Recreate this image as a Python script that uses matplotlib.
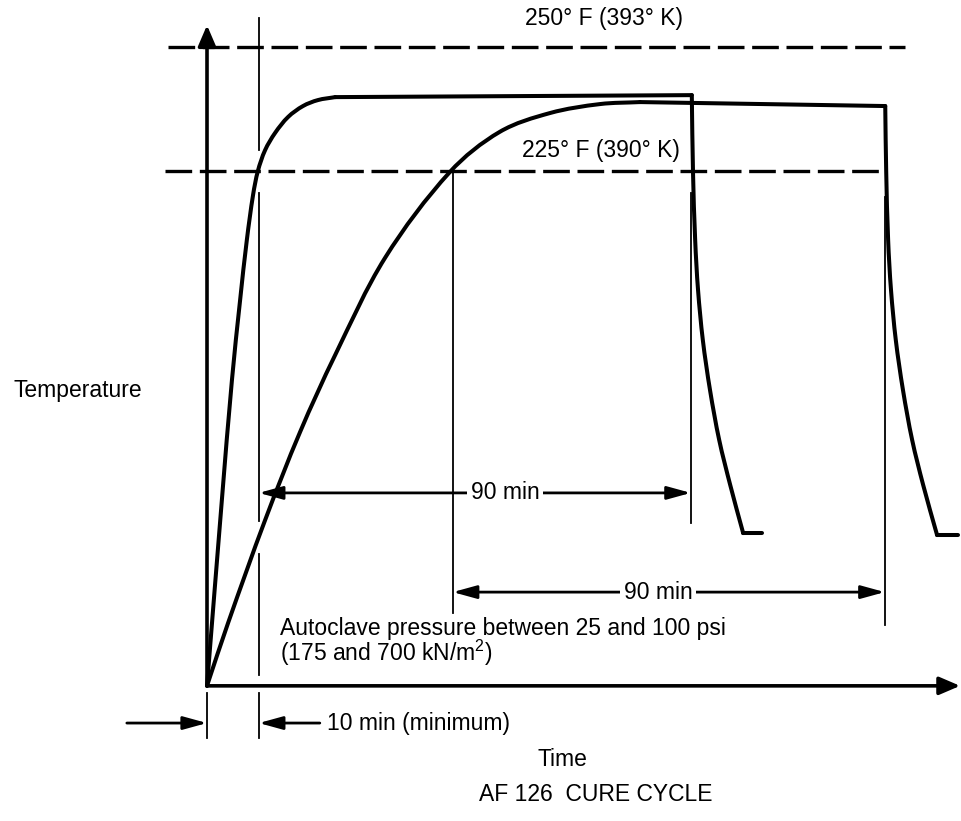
import math
import matplotlib
matplotlib.use("Agg")
import matplotlib.pyplot as plt
from matplotlib.path import Path
from matplotlib.patches import PathPatch

plt.rcParams['font.family'] = ['Liberation Sans', 'DejaVu Sans']
plt.rcParams['mathtext.fontset'] = 'custom'
plt.rcParams['mathtext.rm'] = 'Liberation Sans'

# Cure-cycle temperature profiles (time in minutes, temperature in deg F)
fast_time = [0, 3.1, 5.2, 6.9, 8.3, 9.6, 10.6, 12.1, 14.2, 16.9, 20.0, 23.1, 26.7,
             101.0,
             101.25, 101.7, 102.3, 103.3, 104.8, 106.7, 109.0, 111.7,
             115.6]
fast_temp = [121.2, 158.7, 182.9, 199.0, 211.1, 220.2, 225.0, 229.2, 232.7, 235.9, 238.1, 239.3, 239.9,
             240.3,
             224.8, 211.1, 201.0, 190.9, 180.8, 170.8, 161.7, 152.0,
             152.0]

slow_time = [0, 4.4, 12.1, 19.4, 26.7, 37.1, 50.6, 61.0, 71.5, 81.9, 90.2,
             141.3,
             141.5, 141.9, 142.5, 143.5, 145.0, 146.9, 149.2, 152.1,
             156.5]
slow_temp = [121.2, 133.9, 154.6, 172.4, 187.9, 207.5, 224.8, 232.9, 236.7, 238.5, 238.9,
             238.1,
             224.8, 211.1, 201.0, 190.9, 180.8, 170.8, 161.7, 151.6,
             151.6]

# Indices where the profiles change character (plateau start, cool-down start, cool-down end)
fast_corners = [12, 13, 21]
slow_corners = [10, 11, 19]

# Temperature limits
limit_temps = [250, 225]
limit_labels = ["250° F (393° K)", "225° F (390° K)"]
limit_spans = [(-8.1, 145.4), (-8.8, 140.6)]
limit_label_y = [255.8, 229.2]
limit_label_x = [99.2, 98.5]

# Timing marks (minutes)
heatup_min = 10
hold_min = 90
fast_start = 10.8                 # fast part reaches 225 F
slow_start = 51.2                 # slow part reaches 225 F
fast_end = fast_start + hold_min
slow_end = slow_start + hold_min

hold_arrow_temp = [160.1, 140.1]
hold_label_x = [62.1, 94.0]

# Extent of the thin vertical guide lines (temperature ranges)
guides = [
    (fast_start, [(255.8, 229.2), (220.6, 154.4), (147.8, 123.4), (119.8, 110.7)]),
    (0.0, [(119.8, 110.7)]),
    (slow_start, [(224.6, 135.9)]),
    (fast_end, [(220.6, 154.0)]),
    (slow_end, [(219.8, 133.5)]),
]

# Axis origin and ends
t0, T0 = 0.0, 121.2
t_max, T_max = 156.9, 254.4

fig = plt.figure(figsize=(9.62, 8.21), dpi=100)
ax = fig.add_axes([0, 0, 1, 1])
ax.set_xlim(-43.125, 157.29)
ax.set_ylim(93.95, 259.48)
ax.axis('off')

k = 'black'


def smooth_path(xs, ys):
    """Smooth cubic curve through the points (tangents taken in screen space)."""
    to_px = ax.transData.transform
    from_px = ax.transData.inverted().transform
    pts = [tuple(p) for p in to_px(list(zip(xs, ys)))]
    n = len(pts)
    if n == 2:
        return Path([tuple(v) for v in from_px(pts)], [Path.MOVETO, Path.LINETO])

    def unit(a, b):
        dx, dy = b[0] - a[0], b[1] - a[1]
        d = math.hypot(dx, dy) or 1.0
        return dx / d, dy / d

    tang = []
    for i in range(n):
        a = pts[i - 1] if i > 0 else pts[i]
        b = pts[i + 1] if i < n - 1 else pts[i]
        tang.append(unit(a, b))
    verts = [pts[0]]
    codes = [Path.MOVETO]
    for i in range(n - 1):
        p1, p2 = pts[i], pts[i + 1]
        L = math.hypot(p2[0] - p1[0], p2[1] - p1[1]) / 3.0
        c1 = (p1[0] + tang[i][0] * L, p1[1] + tang[i][1] * L)
        c2 = (p2[0] - tang[i + 1][0] * L, p2[1] - tang[i + 1][1] * L)
        verts += [c1, c2, p2]
        codes += [Path.CURVE4] * 3
    return Path([tuple(v) for v in from_px(verts)], codes)


def draw_profile(ts, Ts, corners):
    bounds = [0] + corners + [len(ts) - 1]
    for a, b in zip(bounds[:-1], bounds[1:]):
        path = smooth_path(ts[a:b + 1], Ts[a:b + 1])
        ax.add_patch(PathPatch(path, fill=False, edgecolor=k, lw=2.9,
                               capstyle='round', joinstyle='round', zorder=3))


# Axes drawn as arrows
axis_arrow = dict(arrowstyle='-|>,head_length=0.7,head_width=0.3', color=k, lw=2.6,
                  mutation_scale=18, shrinkA=0, shrinkB=0)
ax.annotate('', xy=(t0, T_max), xytext=(t0, T0), arrowprops=axis_arrow)
ax.annotate('', xy=(t_max, T0), xytext=(t0, T0), arrowprops=axis_arrow)

# Limit lines
for T, (a, b) in zip(limit_temps, limit_spans):
    ax.plot([a, b], [T, T], color=k, lw=2.4, dashes=(8.0, 2.3), solid_capstyle='butt')
for lab, x, y in zip(limit_labels, limit_label_x, limit_label_y):
    ax.text(x, y, lab, ha='right', va='center', fontsize=16.5)

# Temperature profiles
draw_profile(fast_time, fast_temp, fast_corners)
draw_profile(slow_time, slow_temp, slow_corners)

# Guide lines
for t, spans in guides:
    for lo_hi in spans:
        ax.plot([t, t], list(lo_hi), color=k, lw=1.3)

# Hold-time dimension arrows
dim_arrow = dict(arrowstyle='<|-|>,head_length=0.8,head_width=0.22', color=k, lw=2.0,
                 mutation_scale=18, shrinkA=0, shrinkB=0)
for (a, b), T, xl in zip([(fast_start, fast_end), (slow_start, slow_end)], hold_arrow_temp, hold_label_x):
    ax.annotate('', xy=(b, T), xytext=(a, T), arrowprops=dim_arrow)
    ax.text(xl, T, f"{hold_min} min", ha='center', va='center', fontsize=16.5, zorder=5,
            bbox=dict(facecolor='white', edgecolor='none', pad=2.5))

# Heat-up time marker below the time axis
one_arrow = dict(arrowstyle='-|>,head_length=0.8,head_width=0.22', color=k, lw=2.0,
                 mutation_scale=18, shrinkA=0, shrinkB=0)
ax.annotate('', xy=(0, 113.7), xytext=(-16.7, 113.7), arrowprops=one_arrow)
ax.annotate('', xy=(fast_start, 113.7), xytext=(23.5, 113.7), arrowprops=one_arrow)
ax.text(25.0, 113.7, f"{heatup_min} min (minimum)", ha='left', va='center', fontsize=16.5)

# Labels
ax.text(-40.4, 180.8, "Temperature", ha='left', va='center', fontsize=16.5)
ax.text(74.0, 106.3, "Time", ha='center', va='center', fontsize=16.5)
ax.text(15.2, 129.9, "Autoclave pressure between 25 and 100 psi\n(175 and 700 kN/m$^{2}$)",
        ha='left', va='center', fontsize=16.5, linespacing=0.92)
ax.text(81.0, 99.2, "AF 126  CURE CYCLE", ha='center', va='center', fontsize=16.5)

fig.savefig("out.png", dpi=100, facecolor='white')
